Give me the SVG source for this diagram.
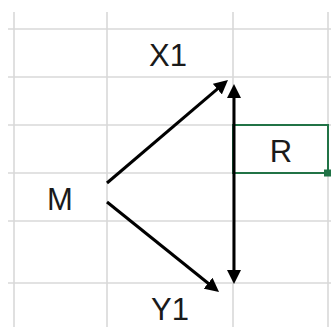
<svg xmlns="http://www.w3.org/2000/svg" width="331" height="327" viewBox="0 0 331 327">
  <style>
    .grid { stroke: #d9d9d9; stroke-width: 1.6; fill: none; }
    .lbl { font-family: "Liberation Sans", Arial, sans-serif; font-size: 31px; fill: #1a1a1a; text-anchor: middle; }
    .conn { stroke: #000; stroke-width: 3; fill: none; }
  </style>
  <defs>
    <marker id="ah" viewBox="0 0 14 14" refX="6" refY="7" markerWidth="14" markerHeight="14" markerUnits="userSpaceOnUse" orient="auto-start-reverse">
      <path d="M0,0 L14,7 L0,14 z" fill="#000"/>
    </marker>
  </defs>
  <rect width="331" height="327" fill="#fff"/>
  <g id="grid">
    <line class="grid" x1="14" y1="12" x2="14" y2="327"/>
    <line class="grid" x1="107" y1="12" x2="107" y2="327"/>
    <line class="grid" x1="233" y1="12" x2="233" y2="327"/>
    <line class="grid" x1="328" y1="12" x2="328" y2="327"/>
    <line class="grid" x1="8" y1="29" x2="331" y2="29"/>
    <line class="grid" x1="8" y1="77" x2="331" y2="77"/>
    <line class="grid" x1="8" y1="125" x2="331" y2="125"/>
    <line class="grid" x1="8" y1="173" x2="331" y2="173"/>
    <line class="grid" x1="8" y1="221" x2="331" y2="221"/>
    <line class="grid" x1="8" y1="283" x2="331" y2="283"/>
  </g>
  <g id="R">
    <rect x="233" y="125" width="95" height="48" fill="#fff" stroke="#217346" stroke-width="2"/>
    <rect x="324" y="169.5" width="7" height="7" fill="#217346"/>
    <text class="lbl" x="281" y="162">R</text>
  </g>
  <g id="X1"><text class="lbl" x="168" y="66">X1</text></g>
  <g id="M"><text class="lbl" x="60" y="210">M</text></g>
  <g id="Y1"><text class="lbl" x="170" y="320">Y1</text></g>
  <g id="connectors">
    <line class="conn" x1="107" y1="183" x2="221.9" y2="85.2" marker-end="url(#ah)"/>
    <line class="conn" x1="107" y1="202" x2="212.8" y2="287" marker-end="url(#ah)"/>
    <line class="conn" x1="234" y1="92" x2="234" y2="276" marker-start="url(#ah)" marker-end="url(#ah)"/>
  </g>
</svg>
